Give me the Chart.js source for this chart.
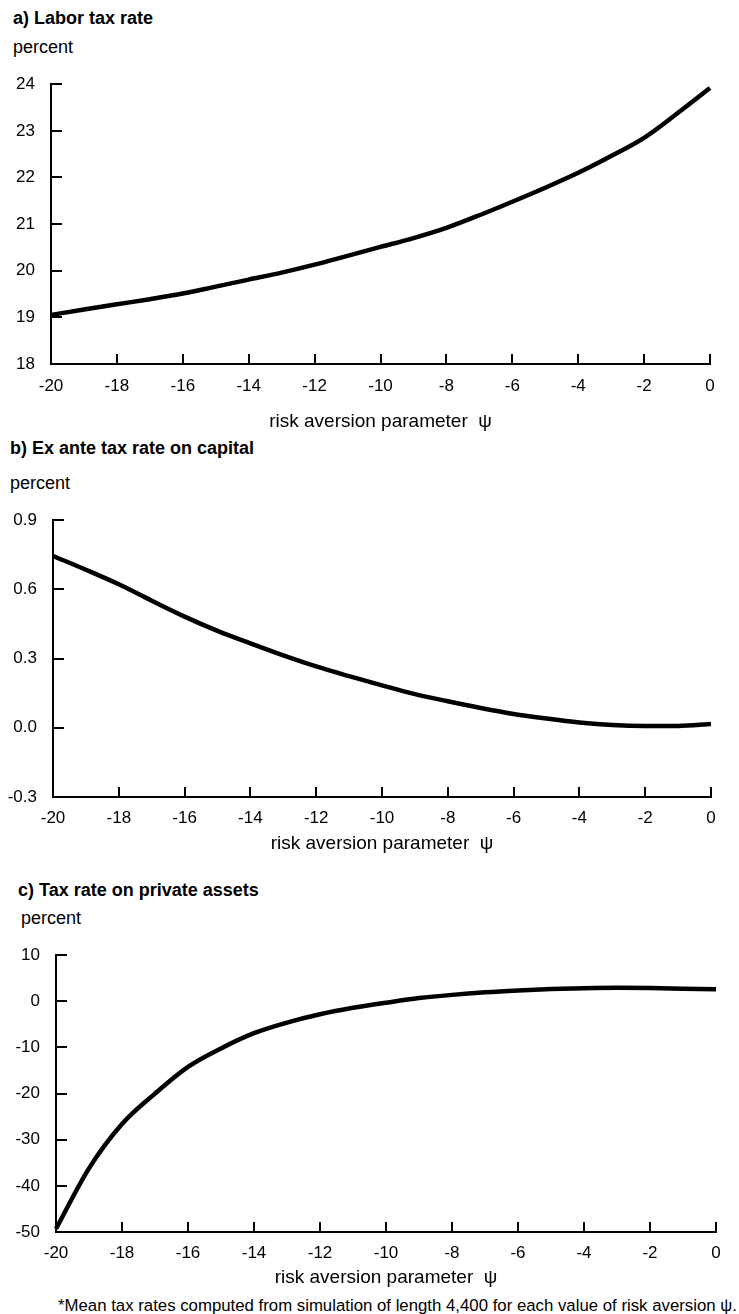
<!DOCTYPE html>
<html>
<head>
<meta charset="utf-8">
<script src="https://cdn.jsdelivr.net/npm/chart.js@4.4.1/dist/chart.umd.min.js"></script>
<style>
  html, body { margin: 0; padding: 0; background: #fff; }
  body { width: 739px; height: 1314px; position: relative; overflow: hidden;
         font-family: "Liberation Sans", Arial, Helvetica, sans-serif; color: #000; }
  .txt { position: absolute; white-space: nowrap; line-height: 20px; }
  .head { font-weight: bold; font-size: 18px; }
  .unit { font-size: 18px; }
  .note { font-size: 16.8px; }
  canvas { position: absolute; left: 0; }
</style>
</head>
<body>
<div class="txt head" style="left:13px;top:8px">a) Labor tax rate</div>
<div class="txt unit" style="left:13px;top:37px">percent</div>
<canvas id="chartA" width="739" height="377" style="top:58px"></canvas>

<div class="txt head" style="left:10px;top:438px">b) Ex ante tax rate on capital</div>
<div class="txt unit" style="left:10px;top:473px">percent</div>
<canvas id="chartB" width="739" height="363" style="top:494px"></canvas>

<div class="txt head" style="left:18px;top:880px">c) Tax rate on private assets</div>
<div class="txt unit" style="left:21px;top:908px">percent</div>
<canvas id="chartC" width="739" height="362" style="top:929px"></canvas>

<div class="txt note" style="left:58px;top:1296px">*Mean tax rates computed from simulation of length 4,400 for each value of risk aversion ψ.</div>

<script>
// risk aversion parameter psi
var psi = [-20, -19, -18, -17, -16, -15, -14, -13, -12, -11, -10, -9, -8, -7, -6, -5, -4, -3, -2, -1, 0];

// a) labor tax rate, percent
var laborTax = [19.05, 19.17, 19.28, 19.39, 19.51, 19.66, 19.81, 19.96, 20.13, 20.32, 20.51,
                20.70, 20.92, 21.19, 21.48, 21.78, 22.10, 22.46, 22.85, 23.37, 23.92];

// b) ex ante tax rate on capital, percent
var capitalTax = [0.745, 0.685, 0.622, 0.551, 0.482, 0.420, 0.366, 0.314, 0.266, 0.224, 0.184,
                  0.146, 0.115, 0.086, 0.060, 0.040, 0.023, 0.012, 0.008, 0.008, 0.016];

// c) tax rate on private assets, percent
var assetTax = [-49.3, -36.2, -26.6, -20.0, -14.2, -10.2, -6.9, -4.6, -2.8, -1.4, -0.3,
                0.7, 1.4, 1.95, 2.35, 2.65, 2.85, 2.95, 2.9, 2.75, 2.6];

var xTicks = [-20, -18, -16, -14, -12, -10, -8, -6, -4, -2, 0];
var ticksA = [18, 19, 20, 21, 22, 23, 24];
var ticksB = [-0.3, 0.0, 0.3, 0.6, 0.9];
var ticksC = [-50, -40, -30, -20, -10, 0, 10];

var FONT = '"Liberation Sans", Arial, Helvetica, sans-serif';

// tick marks drawn inside the plot, like the original
var inwardTicks = {
  id: 'inwardTicks',
  afterDraw: function (chart) {
    var ctx = chart.ctx, area = chart.chartArea, xs = chart.scales.x, ys = chart.scales.y;
    ctx.save();
    ctx.strokeStyle = '#000';
    ctx.lineWidth = 2;
    ctx.beginPath();
    ys.ticks.forEach(function (t) {
      var py = Math.round(ys.getPixelForValue(t.value));
      ctx.moveTo(area.left, py);
      ctx.lineTo(area.left + 11, py);
    });
    xs.ticks.forEach(function (t) {
      var px = Math.round(xs.getPixelForValue(t.value));
      ctx.moveTo(px, area.bottom);
      ctx.lineTo(px, area.bottom - 10);
    });
    ctx.stroke();
    ctx.restore();
  }
};

function panel(id, values, yTicks, fmt, box) {
  var pts = psi.map(function (p, i) { return { x: p, y: values[i] }; });
  var canvas = document.getElementById(id);
  return new Chart(canvas, {
    type: 'line',
    data: {
      datasets: [{
        data: pts,
        borderColor: '#000',
        borderWidth: 4.5,
        pointRadius: 0,
        cubicInterpolationMode: 'monotone',
        fill: false,
        clip: false
      }]
    },
    options: {
      responsive: false,
      animation: false,
      devicePixelRatio: 1,
      layout: { padding: { top: box.padTop, right: 739 - box.right, left: 0, bottom: 0 } },
      plugins: { legend: { display: false }, tooltip: { enabled: false } },
      scales: {
        x: {
          type: 'linear',
          min: -20, max: 0,
          afterBuildTicks: function (s) { s.ticks = xTicks.map(function (v) { return { value: v }; }); },
          afterFit: function (s) { s.height = box.xHeight; },
          grid: { display: false, drawTicks: false },
          border: { display: true, color: '#000', width: 2 },
          ticks: { color: '#000', padding: box.xPad, maxRotation: 0, autoSkip: false,
                   font: { family: FONT, size: 17 } },
          title: { display: true, text: 'risk aversion parameter  ψ', color: '#000',
                   padding: { top: 0, bottom: 2 }, font: { family: FONT, size: 19 } }
        },
        y: {
          type: 'linear',
          min: yTicks[0], max: yTicks[yTicks.length - 1],
          afterBuildTicks: function (s) { s.ticks = yTicks.map(function (v) { return { value: v }; }); },
          afterFit: function (s) { s.width = box.left; },
          grid: { display: false, drawTicks: false },
          border: { display: true, color: '#000', width: 2 },
          ticks: { color: '#000', padding: 16, autoSkip: false,
                   font: { family: FONT, size: 17 },
                   callback: function (v) { return fmt(v); } }
        }
      }
    },
    plugins: [inwardTicks]
  });
}

function intFmt(v) { return String(Math.round(v)); }
function oneDec(v) { return Math.abs(v) < 1e-9 ? '0.0' : v.toFixed(1); }

panel('chartA', laborTax, ticksA, intFmt, { padTop: 13, left: 51, right: 710, xHeight: 71, xPad: 12 });
panel('chartB', capitalTax, ticksB, oneDec, { padTop: 13, left: 53, right: 711, xHeight: 60, xPad: 11 });
panel('chartC', assetTax, ticksC, intFmt, { padTop: 13, left: 56, right: 716, xHeight: 59, xPad: 11 });
</script>
</body>
</html>
